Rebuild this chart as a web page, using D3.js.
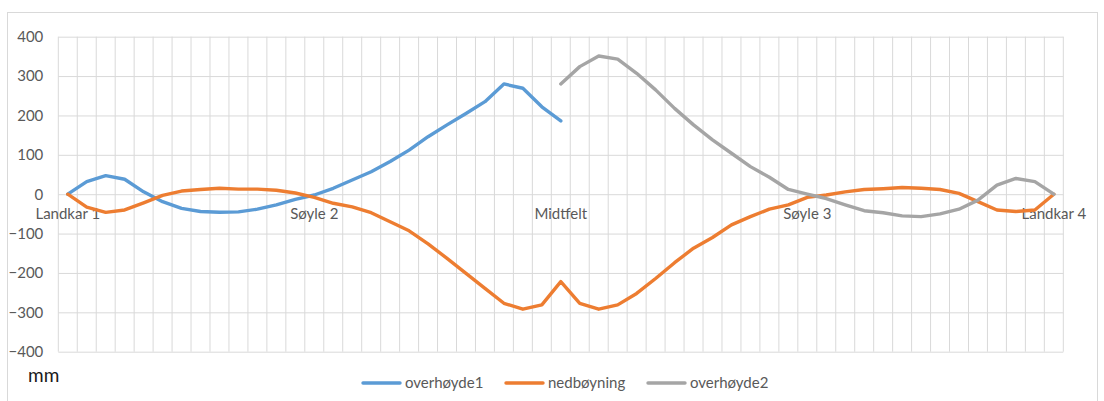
<!DOCTYPE html>
<html>
<head>
<meta charset="utf-8">
<script src="https://cdn.jsdelivr.net/npm/d3@7"></script>
<style>
  html, body { margin: 0; padding: 0; background: #fff; }
  svg { display: block; font-family: Lato, "Open Sans", sans-serif; }
</style>
</head>
<body>
<svg id="chart" width="1104" height="401"></svg>
<script>
// Stations along the bridge (53 measuring points, only supports are named)
const stationNames = ["Landkar 1", "Søyle 2", "Midtfelt", "Søyle 3", "Landkar 4"];
const stationIndex = [0, 13, 26, 39, 52];
const pointCount = 53;

// Pre-camber, first half (points 0–26)
const overhoyde1 = [0, 32, 47, 38, 6, -19, -36, -44, -46, -45, -38, -27, -13, -2, 15, 36, 57, 83, 112, 146, 176, 205, 235, 280, 269, 222, 186];

// Deflection (points 0–52)
const nedboyning = [0, -33, -46, -40, -22, -3, 8, 12, 15, 13, 13, 10, 3, -8, -23, -32, -47, -70, -93, -126,
  -163, -201, -239, -277, -292, -281, -222, -277, -292, -281, -252, -214, -174, -137, -110, -78, -57, -38, -27, -8,
  -2, 6, 12, 14, 17, 15, 12, 2, -19, -40, -44, -40, 0];

// Pre-camber, second half (points 26–52)
const overhoyde2 = [280, 324, 351, 343, 307, 265, 218, 176, 138, 104, 70, 43, 12, 0, -11, -27, -42, -47, -55, -57, -50, -38, -15, 23, 40, 32, 0];
const overhoyde2Start = 26;

const yTicks = [-400, -300, -200, -100, 0, 100, 200, 300, 400];
const seriesNames = ["overhøyde1", "nedbøyning", "overhøyde2"];
const seriesColors = ["#5B9BD5", "#ED7D31", "#A5A5A5"];

const svg = d3.select("#chart");
const plot = { left: 58.3, right: 1063.3, top: 36.7, bottom: 351.7 };

// Category labels: blank except at the supports
const labels = d3.range(pointCount).map(i => {
  const k = stationIndex.indexOf(i);
  return k >= 0 ? stationNames[k] : "";
});

const x = d3.scaleBand().domain(d3.range(pointCount)).range([plot.left, plot.right]).padding(0);
const cx = i => x(i) + x.bandwidth() / 2;
const y = d3.scaleLinear().domain([-400, 400]).range([plot.bottom, plot.top]);

// Outer chart frame
svg.append("rect")
  .attr("x", 7.5).attr("y", 12.5).attr("width", 1090).attr("height", 400)
  .attr("fill", "none").attr("stroke", "#D9D9D9").attr("stroke-width", 1);

// Vertical gridlines on category boundaries
const bounds = d3.range(pointCount + 1).map(i => plot.left + i * x.step());
svg.append("g").selectAll("line").data(bounds).join("line")
  .attr("x1", d => d).attr("x2", d => d)
  .attr("y1", plot.top).attr("y2", plot.bottom)
  .attr("stroke", "#D9D9D9").attr("stroke-width", 1);

// Value axis with horizontal gridlines
const yAxis = svg.append("g")
  .attr("transform", `translate(${plot.left},0)`)
  .call(d3.axisLeft(y).tickValues(yTicks).tickSize(-(plot.right - plot.left)).tickPadding(15).tickFormat(d3.format("d")));
yAxis.select(".domain").remove();
yAxis.selectAll(".tick line").attr("stroke", "#D9D9D9").attr("stroke-width", 1);
yAxis.selectAll(".tick text")
  .attr("fill", "#595959").attr("font-size", 15).attr("font-family", "Lato, sans-serif");

// Category axis crossing at zero
const xAxis = svg.append("g")
  .attr("transform", `translate(0,${y(0)})`)
  .call(d3.axisBottom(x).tickSize(0).tickPadding(14).tickFormat(i => labels[i]));
xAxis.select(".domain").remove();
xAxis.selectAll(".tick text")
  .attr("fill", "#595959").attr("font-size", 15).attr("font-family", "Lato, sans-serif");

// Series as point arrays over the station index
const s1 = overhoyde1.map((v, i) => [i, v]);
const s2 = nedboyning.map((v, i) => [i, v]);
const s3 = overhoyde2.map((v, i) => [i + overhoyde2Start, v]);
const seriesData = [s1, s2, s3];

const line = d3.line().x(d => cx(d[0])).y(d => y(d[1]));

svg.append("g").selectAll("path").data(seriesData).join("path")
  .attr("d", line)
  .attr("fill", "none")
  .attr("stroke", (d, i) => seriesColors[i])
  .attr("stroke-width", 3.4)
  .attr("stroke-linejoin", "round")
  .attr("stroke-linecap", "round");

// Unit label
svg.append("text")
  .attr("x", 28).attr("y", 382)
  .attr("font-size", 19).attr("fill", "#1a1a1a")
  .attr("font-family", "Lato, sans-serif")
  .text("mm");

// Legend
const legendX = [363, 506, 648];
const legend = svg.append("g").selectAll("g").data(seriesNames).join("g")
  .attr("transform", (d, i) => `translate(${legendX[i]},383)`);
legend.append("line")
  .attr("x1", 0).attr("x2", 37).attr("y1", 0).attr("y2", 0)
  .attr("stroke", (d, i) => seriesColors[i]).attr("stroke-width", 3.4)
  .attr("stroke-linecap", "round");
legend.append("text")
  .attr("x", 42).attr("y", 0).attr("dy", "0.35em")
  .attr("font-size", 15).attr("fill", "#595959")
  .attr("font-family", "Lato, sans-serif")
  .text(d => d);
</script>
</body>
</html>
